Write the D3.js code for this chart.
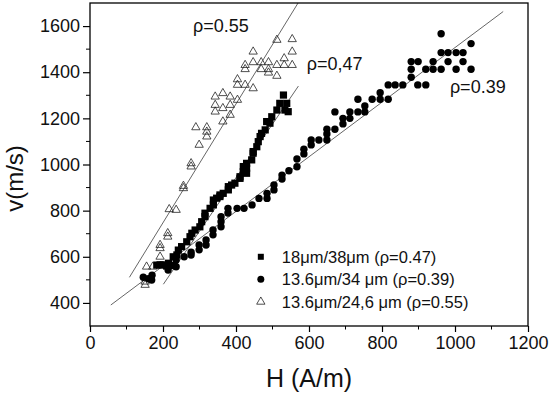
<!DOCTYPE html>
<html>
<head>
<meta charset="utf-8">
<script src="https://cdn.jsdelivr.net/npm/d3@7/dist/d3.min.js"></script>
<style>
  body { margin: 0; background: #fff; }
  svg { display: block; }
  text { font-family: "Liberation Sans", Arial, Helvetica, sans-serif; }
</style>
</head>
<body>
<div id="chart"></div>
<script>
// ---- data: [H (A/m), v (m/s)] ----
const squares = [
  [192,565],[201,565],[183,564],[210,560],[228,562],[215,572],[228,600],[238,608],
  [242,629],[251,644],[265,665],[274,687],[279,702],[288,716],[301,730],[306,752],
  [315,774],[315,789],[329,810],[338,825],[338,846],[347,854],[356,861],[356,868],
  [365,875],[379,890],[379,904],[388,911],[397,919],[411,940],[411,947],[429,962],
  [420,969],[429,984],[420,991],[429,1005],[443,1020],[447,1049],[447,1056],[457,1077],
  [461,1099],[466,1121],[470,1135],[480,1150],[493,1179],[484,1186],[498,1207],[543,1229],
  [512,1236],[534,1236],[520,1265],[539,1265],[530,1301]
];

const circles = [
  [146,511],[160,505],[169,499],[170,520],[214,543],[214,565],[236,557],[236,586],
  [258,600],[277,608],[277,620],[299,630],[299,651],[318,651],[318,673],[337,695],
  [337,716],[359,730],[359,752],[359,774],[378,790],[378,810],[403,810],[422,810],
  [444,825],[463,853],[485,853],[485,875],[504,890],[504,911],[526,937],[526,954],
  [545,973],[567,990],[567,1024],[586,1046],[586,1066],[606,1085],[606,1106],[627,1106],
  [649,1106],[649,1132],[649,1153],[671,1153],[693,1176],[693,1200],[712,1200],[671,1228],
  [712,1228],[734,1228],[753,1228],[753,1254],[734,1283],[773,1283],[795,1283],[817,1283],
  [795,1311],[817,1345],[836,1345],[857,1345],[898,1345],[920,1345],[880,1378],[880,1413],
  [920,1413],[940,1413],[962,1413],[1003,1413],[1044,1413],[880,1446],[899,1446],[940,1446],
  [981,1446],[1022,1446],[962,1485],[981,1485],[1003,1485],[1022,1485],[1044,1524],[962,1567]
];

const triangles = [
  [151,478],[151,492],[155,557],[172,557],[192,600],[192,637],[192,651],[213,687],
  [213,702],[217,806],[236,803],[256,897],[256,907],[277,991],[277,1005],[299,1085],
  [320,1121],[320,1142],[290,1161],[320,1161],[364,1186],[384,1215],[343,1229],[364,1244],
  [343,1258],[384,1258],[404,1280],[343,1294],[384,1294],[364,1309],[447,1330],[404,1345],
  [425,1345],[404,1369],[512,1384],[489,1398],[425,1413],[469,1413],[489,1413],[425,1431],
  [512,1431],[532,1431],[554,1431],[447,1443],[469,1443],[489,1443],[532,1460],[447,1489],
  [554,1489],[512,1540],[554,1543]
];

// linear fits, end points
const fitLines = [
  [[108,511],[570,1700]],
  [[201,481],[571,1340]],
  [[57,391],[1132,1663]]
];

const rhoLabels = ["\u03c1=0.55", "\u03c1=0,47", "\u03c1=0.39"];
const legendLabels = [
  "18\u03bcm/38\u03bcm (\u03c1=0.47)",
  "13.6\u03bcm/34 \u03bcm (\u03c1=0.39)",
  "13.6\u03bcm/24,6 \u03bcm (\u03c1=0.55)"
];

const xTicks = [0, 200, 400, 600, 800, 1000, 1200];
const yTicks = [400, 600, 800, 1000, 1200, 1400, 1600];
const xMinor = [100, 300, 500, 700, 900, 1100];
const yMinor = [500, 700, 900, 1100, 1300, 1500];

// ---- chart ----
const FONT = "'Liberation Sans', Arial, Helvetica, sans-serif";
const width = 550, height = 398;
const margin = { top: 3, right: 22, bottom: 72, left: 90 };
const innerW = width - margin.left - margin.right;
const innerH = height - margin.top - margin.bottom;

const svg = d3.select("#chart").append("svg")
  .attr("width", width)
  .attr("height", height)
  .attr("font-family", FONT);

const chart = svg.append("g")
  .attr("transform", `translate(${margin.left},${margin.top})`);

const x = d3.scaleLinear().domain([0, 1200]).range([0, innerW]);
const y = d3.scaleLinear().domain([300, 1700]).range([innerH, 0]);

chart.append("clipPath").attr("id", "plot-clip")
  .append("rect").attr("width", innerW).attr("height", innerH);

// fit lines
const line = d3.line().x(d => x(d[0])).y(d => y(d[1]));
chart.append("g")
  .attr("clip-path", "url(#plot-clip)")
  .selectAll("path")
  .data(fitLines)
  .join("path")
  .attr("d", line)
  .attr("fill", "none")
  .attr("stroke", "#555")
  .attr("stroke-width", 0.9);

// markers
const triSym = d3.symbol().type(d3.symbolTriangle).size(30);
chart.append("g").selectAll("path")
  .data(triangles)
  .join("path")
  .attr("transform", d => `translate(${x(d[0])},${y(d[1])})`)
  .attr("d", triSym)
  .attr("fill", "none")
  .attr("stroke", "#222")
  .attr("stroke-width", 0.8);

chart.append("g").selectAll("rect")
  .data(squares)
  .join("rect")
  .attr("x", d => x(d[0]) - 3.6)
  .attr("y", d => y(d[1]) - 3.6)
  .attr("width", 7.2)
  .attr("height", 7.2)
  .attr("fill", "#000");

chart.append("g").selectAll("circle")
  .data(circles)
  .join("circle")
  .attr("cx", d => x(d[0]))
  .attr("cy", d => y(d[1]))
  .attr("r", 3.7)
  .attr("fill", "#000");

// frame
chart.append("rect")
  .attr("width", innerW)
  .attr("height", innerH)
  .attr("fill", "none")
  .attr("stroke", "#000")
  .attr("stroke-width", 1.3);

// axes (ticks outside)
const fmt = d3.format("d");
const xAxis = chart.append("g").attr("transform", `translate(0,${innerH})`);
xAxis.call(d3.axisBottom(x).tickValues(xTicks).tickFormat(fmt).tickSize(6).tickPadding(4))
  .call(g => g.select(".domain").remove());
xAxis.selectAll("line.minor")
  .data(xMinor)
  .join("line")
  .attr("class", "minor")
  .attr("x1", d => x(d)).attr("x2", d => x(d))
  .attr("y1", 0).attr("y2", 3.5)
  .attr("stroke", "#000");

const yAxis = chart.append("g");
yAxis.call(d3.axisLeft(y).tickValues(yTicks).tickFormat(fmt).tickSize(7).tickPadding(3))
  .call(g => g.select(".domain").remove());
yAxis.selectAll("line.minor")
  .data(yMinor)
  .join("line")
  .attr("class", "minor")
  .attr("y1", d => y(d)).attr("y2", d => y(d))
  .attr("x1", 0).attr("x2", -4)
  .attr("stroke", "#000");

[xAxis, yAxis].forEach(g => g.attr("font-family", FONT).attr("font-size", 18));
svg.selectAll(".tick line").attr("stroke", "#000").attr("stroke-width", 1.2);
svg.selectAll(".tick text").attr("fill", "#111");

// axis titles
svg.append("text")
  .attr("x", margin.left + x(600))
  .attr("y", 387)
  .attr("text-anchor", "middle")
  .attr("font-size", 25)
  .attr("fill", "#111")
  .text("H (A/m)");

svg.append("text")
  .attr("transform", `translate(23,${margin.top + y(1000) + 14}) rotate(-90)`)
  .attr("text-anchor", "middle")
  .attr("font-size", 24)
  .attr("fill", "#111")
  .text("v(m/s)");

// rho annotations, anchored in data units (baseline)
const rhoPos = [[282, 1576], [594, 1410], [986, 1312]];
chart.append("g").selectAll("text")
  .data(rhoLabels)
  .join("text")
  .attr("x", (d, i) => x(rhoPos[i][0]))
  .attr("y", (d, i) => y(rhoPos[i][1]))
  .attr("font-size", 18)
  .attr("fill", "#111")
  .text(d => d);

// legend
const legend = chart.append("g")
  .attr("transform", `translate(${x(468)},${y(600)})`);
const rowGap = 22.5;
legend.append("rect")
  .attr("x", -3).attr("y", -3)
  .attr("width", 6).attr("height", 6)
  .attr("fill", "#000");
legend.append("circle")
  .attr("cy", rowGap).attr("r", 3.5)
  .attr("fill", "#000");
legend.append("path")
  .attr("transform", `translate(0,${rowGap * 2})`)
  .attr("d", triSym)
  .attr("fill", "none")
  .attr("stroke", "#222")
  .attr("stroke-width", 0.8);
legend.selectAll("text")
  .data(legendLabels)
  .join("text")
  .attr("x", 21)
  .attr("y", (d, i) => i * rowGap + 6)
  .attr("font-size", 16.5)
  .attr("fill", "#111")
  .text(d => d);
</script>
</body>
</html>
